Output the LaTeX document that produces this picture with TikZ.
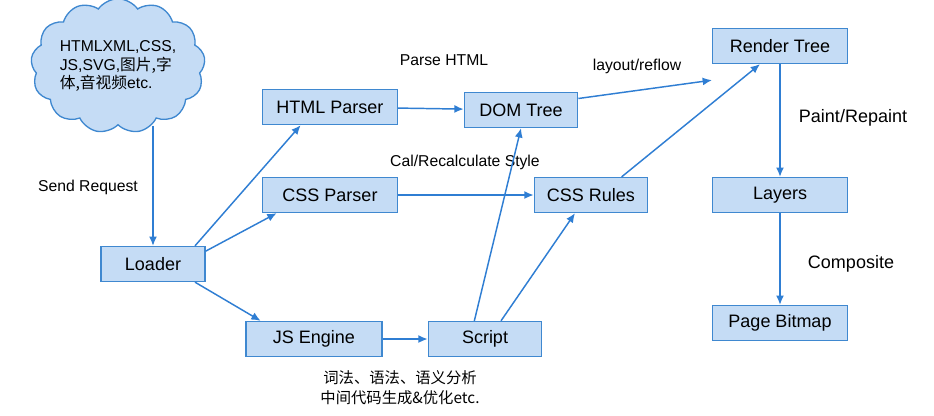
\documentclass[tikz,border=0pt]{standalone}
\usepackage{fontspec}
\setmainfont{Liberation Sans}
\newfontfamily\cjk{Noto Sans CJK SC}
\usetikzlibrary{shapes.symbols,arrows.meta}
\definecolor{bfill}{HTML}{C5DCF5}
\definecolor{bline}{HTML}{3F88D0}
\definecolor{arr}{HTML}{2F7ED3}
\tikzset{
 box/.style={draw=bline,fill=bfill,line width=1pt,minimum height=26.25pt,inner sep=1pt,font=\fontsize{13.5}{15}\selectfont},
 lbl/.style={font=\fontsize{11.8}{13}\selectfont},
 con/.style={draw=arr,line width=1.1pt,-{Latex[length=7pt,width=6pt]}}
}
\begin{document}
\begin{tikzpicture}[x=0.75pt,y=-0.75pt]
\useasboundingbox (0,0) rectangle (934,415);
\node[cloud,cloud puffs=13,cloud puff arc=110,aspect=1.4,draw=bline,fill=bfill,line width=1pt,minimum width=126pt,minimum height=96pt,inner sep=0pt,align=left,font=\fontsize{11.8}{14}\selectfont] (cloud) at (118,66) {HTMLXML,CSS,\\JS,SVG,{\cjk 图片,字}\\{\cjk 体,音视频}etc.};
\node[box,minimum width=101pt] (html) at (330,107) {HTML Parser};
\node[box,minimum width=85pt] (dom) at (521,110) {DOM Tree};
\node[box,minimum width=101pt] (render) at (780,46) {Render Tree};
\node[box,minimum width=101pt] (css) at (330,195) {CSS Parser};
\node[box,minimum width=85pt] (rules) at (591,195) {CSS Rules};
\node[box,minimum width=101pt] (layers) at (780,195) {Layers};
\node[box,minimum width=78pt] (loader) at (153,264) {Loader};
\node[box,minimum width=102pt] (js) at (314,339) {JS Engine};
\node[box,minimum width=85pt] (script) at (485,339) {Script};
\node[box,minimum width=101pt] (bitmap) at (780,323) {Page Bitmap};
\node[lbl] (t1) at (444,60) {Parse HTML};
\node[lbl] (t2) at (637,66) {layout/reflow};
\node[box,draw=none,fill=none] (t3) at (853,118) {Paint/Repaint};
\node[lbl] (t4) at (465,162) {Cal/Recalculate Style};
\node[lbl] (t5) at (88,187) {Send Request};
\node[box,draw=none,fill=none] (t6) at (851,264) {Composite};
\node[font=\cjk\fontsize{11.5}{13}\selectfont] (t7) at (400,378) {词法、语法、语义分析};
\node[font=\cjk\fontsize{11.5}{13}\selectfont] (t8) at (400,398) {中间代码生成\&优化etc.};
\draw[con] (cloud.south -| loader.north) -- (loader.north);
\draw[con] ([xshift=-8pt]loader.north east) -- ([xshift=-22pt]html.south);
\draw[con] ([yshift=-4pt]loader.north east) -- ([xshift=-40pt]css.south);
\draw[con] ([xshift=-8pt]loader.south east) -- ([xshift=-40pt]js.north);
\draw[con] (html) -- (dom);
\draw[con] ([yshift=-5pt]dom.north east) -- ([yshift=-12pt]render.south west);
\draw[con] (css) -- (rules);
\draw[con] ([xshift=-20pt]rules.north east) -- ([xshift=-15pt]render.south);
\draw[con] (render) -- (layers);
\draw[con] (layers) -- (bitmap);
\draw[con] (js) -- (script);
\draw[con] ([xshift=-8pt]script.north) -- (dom.south);
\draw[con] ([xshift=12pt]script.north) -- ([xshift=-12pt]rules.south);
\end{tikzpicture}
\end{document}
